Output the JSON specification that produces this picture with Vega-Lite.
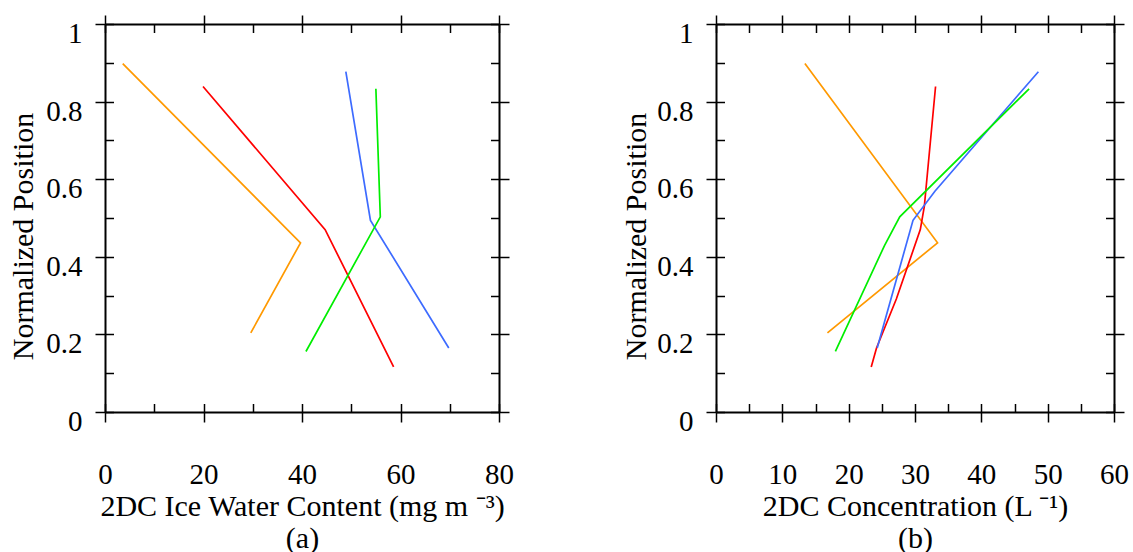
{
  "$schema": "https://vega.github.io/schema/vega-lite/v6.json",
  "bounds": "flush",
  "padding": {"left": 8, "top": 14, "right": 5, "bottom": 0},
  "spacing": 217,
  "background": "white",
  "config": {
    "view": {"stroke": null},
    "axis": {
      "grid": false,
      "domainColor": "black",
      "domainWidth": 2,
      "tickColor": "black",
      "tickWidth": 1.5,
      "labelFont": "Liberation Serif",
      "labelFontSize": 29,
      "labelColor": "black",
      "titleFont": "Liberation Serif",
      "titleFontSize": 30,
      "titleFontWeight": "normal",
      "titleColor": "black",
      "labelFlush": false,
      "labelOverlap": false
    }
  },
  "datasets": {
    "a": [
      {"s": "orange", "o": 1, "x": 3.6, "y": 0.898},
      {"s": "orange", "o": 2, "x": 39.7, "y": 0.436},
      {"s": "orange", "o": 3, "x": 29.6, "y": 0.204},
      {"s": "red", "o": 1, "x": 19.9, "y": 0.839},
      {"s": "red", "o": 2, "x": 44.7, "y": 0.47},
      {"s": "red", "o": 3, "x": 58.6, "y": 0.116},
      {"s": "blue", "o": 1, "x": 48.9, "y": 0.877},
      {"s": "blue", "o": 2, "x": 53.9, "y": 0.494},
      {"s": "blue", "o": 3, "x": 69.8, "y": 0.165},
      {"s": "green", "o": 1, "x": 55.0, "y": 0.833},
      {"s": "green", "o": 2, "x": 55.9, "y": 0.503},
      {"s": "green", "o": 3, "x": 40.8, "y": 0.156}
    ],
    "b": [
      {"s": "orange", "o": 1, "x": 13.4, "y": 0.898},
      {"s": "orange", "o": 2, "x": 33.4, "y": 0.436},
      {"s": "orange", "o": 3, "x": 16.8, "y": 0.204},
      {"s": "red", "o": 1, "x": 33.1, "y": 0.839},
      {"s": "red", "o": 2, "x": 31.4, "y": 0.529},
      {"s": "red", "o": 3, "x": 30.8, "y": 0.47},
      {"s": "red", "o": 4, "x": 27.2, "y": 0.292},
      {"s": "red", "o": 5, "x": 24.2, "y": 0.165},
      {"s": "red", "o": 6, "x": 23.4, "y": 0.116},
      {"s": "blue", "o": 1, "x": 48.6, "y": 0.877},
      {"s": "blue", "o": 2, "x": 33.0, "y": 0.569},
      {"s": "blue", "o": 3, "x": 29.7, "y": 0.494},
      {"s": "blue", "o": 4, "x": 24.3, "y": 0.165},
      {"s": "green", "o": 1, "x": 47.2, "y": 0.833},
      {"s": "green", "o": 2, "x": 27.7, "y": 0.503},
      {"s": "green", "o": 3, "x": 25.4, "y": 0.429},
      {"s": "green", "o": 4, "x": 18.0, "y": 0.156}
    ]
  },
  "hconcat": [
    {
      "width": 394,
      "height": 388,
      "data": {"name": "a"},
      "layer": [
        {
          "mark": {"type": "line", "strokeWidth": 1.7},
          "encoding": {
            "x": {"field": "x", "type": "quantitative", "scale": {"domain": [0, 80], "nice": false, "zero": false},
              "axis": {"orient": "bottom", "values": [0, 20, 40, 60, 80], "tickSize": 10, "labelPadding": 38, "titlePadding": 2, "titleLineHeight": 32,
                "title": ["2DC Ice Water Content (mg m ⁻³)", "(a)"]}},
            "y": {"field": "y", "type": "quantitative", "scale": {"domain": [0, 1], "nice": false, "zero": false},
              "axis": {"orient": "left", "values": [0, 0.2, 0.4, 0.6, 0.8, 1], "format": "~g", "tickSize": 10, "labelPadding": 13, "labelOffset": 9.5,
                "title": "Normalized Position", "titleX": -82, "titleY": 212, "titleAlign": "center", "titleBaseline": "middle", "titleAngle": -90}},
            "color": {"field": "s", "type": "nominal", "scale": {"domain": ["orange", "red", "blue", "green"], "range": ["#FF9900", "#FF0000", "#3D6BFF", "#00EE00"]}, "legend": null},
            "order": {"field": "o", "type": "quantitative"}
          }
        },
        {
          "mark": {"type": "line", "opacity": 0},
          "encoding": {
            "x": {"field": "x", "type": "quantitative", "axis": {"orient": "bottom", "values": [0, 10, 20, 30, 40, 50, 60, 70, 80], "tickSize": -8.5, "labels": false, "domain": false, "title": null}},
            "y": {"field": "y", "type": "quantitative", "axis": {"orient": "left", "values": [0, 0.1, 0.2, 0.3, 0.4, 0.5, 0.6, 0.7, 0.8, 0.9, 1], "tickSize": -8.5, "labels": false, "domain": false, "title": null}},
            "detail": {"field": "s"},
            "order": {"field": "o", "type": "quantitative"}
          }
        },
        {
          "mark": {"type": "line", "opacity": 0},
          "encoding": {
            "x": {"field": "x", "type": "quantitative", "axis": {"orient": "top", "values": [0, 20, 40, 60, 80], "tickSize": 9, "labels": false, "title": null}},
            "y": {"field": "y", "type": "quantitative", "axis": {"orient": "right", "values": [0, 0.2, 0.4, 0.6, 0.8, 1], "tickSize": 10, "labels": false, "title": null}},
            "detail": {"field": "s"},
            "order": {"field": "o", "type": "quantitative"}
          }
        },
        {
          "mark": {"type": "line", "opacity": 0},
          "encoding": {
            "x": {"field": "x", "type": "quantitative", "axis": {"orient": "top", "values": [0, 10, 20, 30, 40, 50, 60, 70, 80], "tickSize": -8.5, "labels": false, "domain": false, "title": null}},
            "y": {"field": "y", "type": "quantitative", "axis": {"orient": "right", "values": [0, 0.1, 0.2, 0.3, 0.4, 0.5, 0.6, 0.7, 0.8, 0.9, 1], "tickSize": -8.5, "labels": false, "domain": false, "title": null}},
            "detail": {"field": "s"},
            "order": {"field": "o", "type": "quantitative"}
          }
        }
      ],
      "resolve": {"axis": {"x": "independent", "y": "independent"}}
    },
    {
      "width": 398,
      "height": 388,
      "data": {"name": "b"},
      "layer": [
        {
          "mark": {"type": "line", "strokeWidth": 1.7},
          "encoding": {
            "x": {"field": "x", "type": "quantitative", "scale": {"domain": [0, 60], "nice": false, "zero": false},
              "axis": {"orient": "bottom", "values": [0, 10, 20, 30, 40, 50, 60], "tickSize": 10, "labelPadding": 38, "titlePadding": 2, "titleLineHeight": 32,
                "title": ["2DC Concentration (L ⁻¹)", "(b)"]}},
            "y": {"field": "y", "type": "quantitative", "scale": {"domain": [0, 1], "nice": false, "zero": false},
              "axis": {"orient": "left", "values": [0, 0.2, 0.4, 0.6, 0.8, 1], "format": "~g", "tickSize": 10, "labelPadding": 13, "labelOffset": 9.5,
                "title": "Normalized Position", "titleX": -80, "titleY": 212, "titleAlign": "center", "titleBaseline": "middle", "titleAngle": -90}},
            "color": {"field": "s", "type": "nominal", "scale": {"domain": ["orange", "red", "blue", "green"], "range": ["#FF9900", "#FF0000", "#3D6BFF", "#00EE00"]}, "legend": null},
            "order": {"field": "o", "type": "quantitative"}
          }
        },
        {
          "mark": {"type": "line", "opacity": 0},
          "encoding": {
            "x": {"field": "x", "type": "quantitative", "axis": {"orient": "bottom", "values": [0, 5, 10, 15, 20, 25, 30, 35, 40, 45, 50, 55, 60], "tickSize": -8.5, "labels": false, "domain": false, "title": null}},
            "y": {"field": "y", "type": "quantitative", "axis": {"orient": "left", "values": [0, 0.1, 0.2, 0.3, 0.4, 0.5, 0.6, 0.7, 0.8, 0.9, 1], "tickSize": -8.5, "labels": false, "domain": false, "title": null}},
            "detail": {"field": "s"},
            "order": {"field": "o", "type": "quantitative"}
          }
        },
        {
          "mark": {"type": "line", "opacity": 0},
          "encoding": {
            "x": {"field": "x", "type": "quantitative", "axis": {"orient": "top", "values": [0, 10, 20, 30, 40, 50, 60], "tickSize": 9, "labels": false, "title": null}},
            "y": {"field": "y", "type": "quantitative", "axis": {"orient": "right", "values": [0, 0.2, 0.4, 0.6, 0.8, 1], "tickSize": 10, "labels": false, "title": null}},
            "detail": {"field": "s"},
            "order": {"field": "o", "type": "quantitative"}
          }
        },
        {
          "mark": {"type": "line", "opacity": 0},
          "encoding": {
            "x": {"field": "x", "type": "quantitative", "axis": {"orient": "top", "values": [0, 5, 10, 15, 20, 25, 30, 35, 40, 45, 50, 55, 60], "tickSize": -8.5, "labels": false, "domain": false, "title": null}},
            "y": {"field": "y", "type": "quantitative", "axis": {"orient": "right", "values": [0, 0.1, 0.2, 0.3, 0.4, 0.5, 0.6, 0.7, 0.8, 0.9, 1], "tickSize": -8.5, "labels": false, "domain": false, "title": null}},
            "detail": {"field": "s"},
            "order": {"field": "o", "type": "quantitative"}
          }
        }
      ],
      "resolve": {"axis": {"x": "independent", "y": "independent"}}
    }
  ]
}
